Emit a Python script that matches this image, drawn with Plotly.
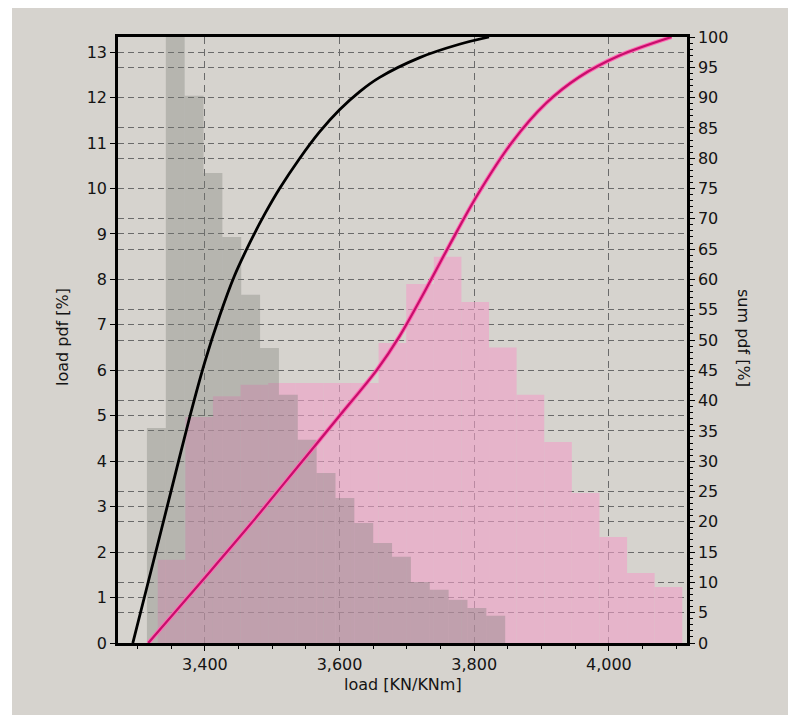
import plotly.graph_objects as go

# ---------------- data ----------------
gray_left_edges = [3314, 3342, 3370, 3398, 3426, 3454, 3482, 3510, 3538, 3566,
                   3594, 3622, 3650, 3678, 3706, 3734, 3762, 3790, 3818]
gray_bin_width = 28
gray_pdf = [4.73, 21.0, 12.04, 10.34, 8.93, 7.66, 6.49, 5.46, 4.47, 3.74,
            3.19, 2.64, 2.2, 1.9, 1.34, 1.17, 0.95, 0.77, 0.6]

pink_left_edges = [3330, 3371, 3412, 3453, 3494, 3535, 3576, 3617, 3658, 3699,
                   3740, 3781, 3822, 3863, 3904, 3945, 3986, 4027, 4068]
pink_bin_width = 41
pink_pdf = [1.83, 4.97, 5.43, 5.68, 5.72, 5.72, 5.72, 5.72, 6.6, 7.9,
            8.5, 7.5, 6.5, 5.46, 4.42, 3.3, 2.33, 1.54, 1.23]

black_cdf_load = [3293, 3323, 3351, 3378, 3400, 3422, 3444, 3467, 3489, 3511,
                  3541, 3570, 3600, 3630, 3659, 3719, 3778, 3822]
black_cdf_pct = [0, 13.2, 25.6, 37.5, 46.4, 54.0, 60.6, 66.1, 70.8, 75.0,
                 80.0, 84.3, 88.0, 91.0, 93.3, 96.6, 98.8, 100]

pink_cdf_load = [3316, 3397, 3467, 3541, 3600, 3655, 3689, 3723, 3763, 3803,
                 3856, 3907, 3956, 4015, 4093]
pink_cdf_pct = [0, 10.4, 19.5, 29.5, 37.5, 45.0, 50.6, 57.3, 65.6, 73.6,
                82.6, 89.1, 93.4, 96.9, 100]

x_tickvals = [3400, 3600, 3800, 4000]

# ---------------- figure ----------------
BG = "#d6d3ce"
FONT = "DejaVu Sans, Verdana, sans-serif"

fig = go.Figure()

fig.add_trace(go.Bar(
    x=[e + pink_bin_width / 2 for e in pink_left_edges], y=pink_pdf,
    width=pink_bin_width, marker=dict(color="rgba(240,160,200,0.6)", line=dict(width=0)),
    yaxis="y", showlegend=False, hoverinfo="skip"))
fig.add_trace(go.Bar(
    x=[e + gray_bin_width / 2 for e in gray_left_edges], y=gray_pdf,
    width=gray_bin_width, marker=dict(color="rgba(120,122,118,0.34)", line=dict(width=0)),
    yaxis="y", showlegend=False, hoverinfo="skip"))

fig.add_trace(go.Scatter(
    x=black_cdf_load, y=black_cdf_pct, mode="lines", yaxis="y2",
    line=dict(color="black", width=2.8, shape="spline", smoothing=0.9),
    showlegend=False, hoverinfo="skip"))
fig.add_trace(go.Scatter(
    x=pink_cdf_load, y=pink_cdf_pct, mode="lines", yaxis="y2",
    line=dict(color="#ff6ab4", width=4.2, shape="spline", smoothing=0.9),
    showlegend=False, hoverinfo="skip"))
fig.add_trace(go.Scatter(
    x=pink_cdf_load, y=pink_cdf_pct, mode="lines", yaxis="y2",
    line=dict(color="#c70f6b", width=2.2, shape="spline", smoothing=0.9),
    showlegend=False, hoverinfo="skip"))

L, R, T, B = 118, 101, 37, 72
W, H = 788, 715
pw, ph = W - L - R, H - T - B

hgrid = dict(gridcolor="#6a6a6a", gridwidth=1.3, griddash="6px,4px")
vgrid = dict(gridcolor="#6a6a6a", gridwidth=1, griddash="7px,5px")

fig.update_layout(
    width=W, height=H,
    margin=dict(l=L, r=R, t=T, b=B, pad=0),
    paper_bgcolor=BG, plot_bgcolor=BG,
    barmode="overlay",
    font=dict(family=FONT, size=16, color="#141414"),
    xaxis=dict(range=[3271, 4116], tickvals=x_tickvals, tickformat=",d",
               showline=True, linecolor="black", linewidth=2.5, mirror=True,
               ticks="outside", ticklen=5, tickcolor="black",
               minor=dict(dtick=50, ticks="outside", ticklen=3, tickcolor="black", showgrid=False),
               showgrid=True, zeroline=False, **vgrid),
    yaxis=dict(range=[0, 13.333], dtick=1, showline=True, linecolor="black", linewidth=2.5,
               ticks="outside", ticklen=5, tickcolor="black",
               showgrid=True, zeroline=False, **hgrid),
    yaxis2=dict(range=[0, 100], dtick=5, overlaying="y", side="right",
                showline=True, linecolor="black", linewidth=2.5,
                ticks="outside", ticklen=5, tickcolor="black",
                minor=dict(dtick=1, ticks="outside", ticklen=3, tickcolor="black", showgrid=False),
                showgrid=True, zeroline=False, **hgrid),
    shapes=[
        dict(type="rect", xref="paper", yref="paper", layer="below",
             x0=-L / pw, x1=1 + R / pw, y0=1 + (T - 8) / ph, y1=1 + T / ph,
             fillcolor="white", line=dict(width=0)),
        dict(type="rect", xref="paper", yref="paper", layer="below",
             x0=-L / pw, x1=-(L - 12) / pw, y0=-B / ph, y1=1 + T / ph,
             fillcolor="white", line=dict(width=0)),
    ],
    annotations=[
        dict(text="load [KN/KNm]", xref="paper", yref="paper", x=0.5, y=-(684 - 643) / ph,
             showarrow=False, xanchor="center", yanchor="middle", font=dict(size=16)),
        dict(text="load pdf [%]", xref="paper", yref="paper", x=-(L - 62) / pw, y=(643 - 337) / ph,
             showarrow=False, textangle=-90, xanchor="center", yanchor="middle", font=dict(size=16)),
        dict(text="sum pdf [%]", xref="paper", yref="paper", x=1 + (744 - 687) / pw, y=(643 - 338) / ph,
             showarrow=False, textangle=90, xanchor="center", yanchor="middle", font=dict(size=16)),
    ],
)

fig.write_html("out.html")
